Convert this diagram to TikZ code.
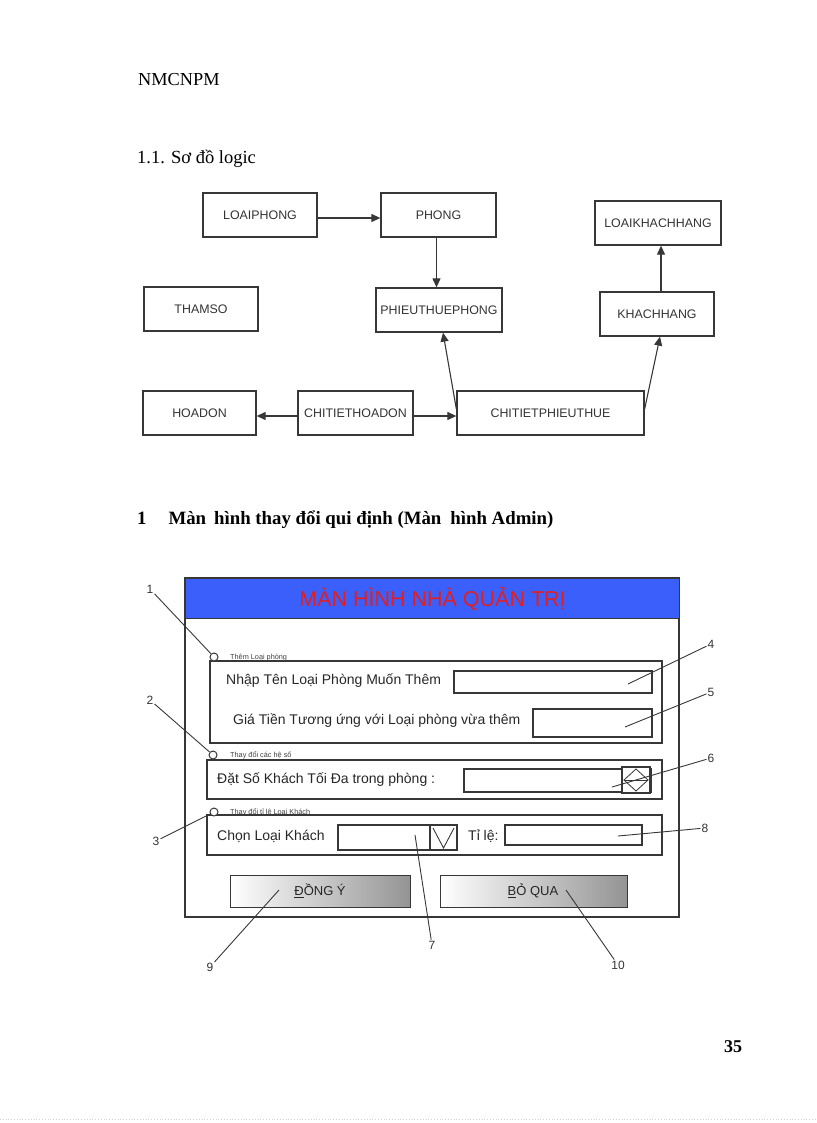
\documentclass[tikz,border=0pt]{standalone}
\usepackage{fontspec}
\setmainfont{Liberation Serif}
\newfontfamily\arial{Liberation Sans}
\usetikzlibrary{arrows.meta,calc}
\definecolor{titleblue}{RGB}{58,95,250}
\definecolor{titlered}{RGB}{228,30,30}
\definecolor{linegray}{RGB}{55,55,55}
\begin{document}
\begin{tikzpicture}[x=1pt,y=-1pt,
  ent/.style={draw=linegray, line width=1.3pt, minimum height=44pt, inner sep=0pt,
    font=\arial\fontsize{12.4}{14}\selectfont, text=black!80},
  rel/.style={draw=linegray, line width=1.1pt, -{Triangle[length=9pt,width=8pt]}},
  frm/.style={draw=linegray, line width=1.1pt},
  lbl/.style={anchor=west, inner sep=0pt, font=\arial\fontsize{14}{16}\selectfont, text=black!85},
  small/.style={anchor=base west, inner sep=0pt, font=\arial\fontsize{7.3}{8}\selectfont, text=black!75},
  radio/.style={circle, draw=linegray, line width=1pt, fill=white, minimum size=8pt, inner sep=0pt},
  num/.style={inner sep=1pt, font=\arial\fontsize{12}{14}\selectfont, text=black!80},
  call/.style={draw=linegray, line width=0.9pt},
  btn/.style={draw=linegray, line width=1pt, left color=white, right color=black!42},
  btntext/.style={font=\arial\fontsize{13}{15}\selectfont, text=black!85, inner sep=0pt}
]
\useasboundingbox (0,0) rectangle (816,1123);

% page texts
\node[anchor=base west, inner sep=0pt, font=\fontsize{18.3}{20}\selectfont] (hdr) at (138,86) {NMCNPM};
\node[anchor=base west, inner sep=0pt, font=\fontsize{18.5}{20}\selectfont] (sec) at (137,164) {1.1. Sơ đồ logic};
\node[anchor=base west, inner sep=0pt, font=\bfseries\fontsize{18.8}{21}\selectfont] (sec2) at (137,524) {1\hspace{22pt}Màn\hspace{8pt}hình thay đổi qui định (Màn\hspace{9pt}hình Admin)};
\node[anchor=base west, inner sep=0pt, font=\bfseries\fontsize{18}{20}\selectfont] (pg) at (724,1052) {35};
\draw[gray!35, dotted, line width=0.8pt] (0,1119) -- (816,1119);

% logical diagram
\node[ent, minimum width=114pt] (lp)   at (260,215)   {LOAIPHONG};
\node[ent, minimum width=115pt] (ph)   at (438.5,215) {PHONG};
\node[ent, minimum width=114pt] (ts)   at (201,309)   {THAMSO};
\node[ent, minimum width=126pt] (ptp)  at (439,310)   {PHIEUTHUEPHONG};
\node[ent, minimum width=126pt] (lkh)  at (658,223)   {LOAIKHACHHANG};
\node[ent, minimum width=114pt] (kh)   at (657,314)   {KHACHHANG};
\node[ent, minimum width=113pt] (hd)   at (199.5,413) {HOADON};
\node[ent, minimum width=115pt] (ctho) at (355.5,413) {CHITIETHOADON};
\node[ent, minimum width=187pt] (ctpt) at (550.5,413) {CHITIETPHIEUTHUE};

\draw[rel] ([yshift=-3pt]lp.east) -- ([yshift=-3pt]ph.west);
\draw[rel] ([xshift=-2pt]ph.south) -- ([xshift=-2pt]ph.south |- ptp.north);
\draw[rel] ([yshift=4pt]ctpt.west) -- ([xshift=4pt]ptp.south);
\draw[rel] ([yshift=4pt]ctpt.east) -- ([xshift=3pt]kh.south);
\draw[rel] ([xshift=4pt]kh.north) -- ([xshift=4pt]kh.north |- lkh.south);
\draw[rel] ([yshift=-3pt]ctho.west) -- ([yshift=-3pt]hd.east);
\draw[rel] ([yshift=-3pt]ctho.east) -- ([yshift=-3pt]ctpt.west);

% admin screen
\draw[frm] (185,578) rectangle (679,917);
\node[draw=linegray, line width=1.1pt, fill=titleblue, anchor=north west, minimum width=494pt, minimum height=40pt, inner sep=0pt,
  font=\arial\fontsize{21.5}{24}\selectfont, text=titlered] (title) at (185,578) {MÀN HÌNH NHÀ QUẢN TRỊ};

% group 1
\draw[frm] (210,661) rectangle (662,743);
\node[radio] (r1) at (214,657) {};
\node[small] (t1) at (230,659) {Thêm Loại phòng};
\node[lbl] (l1) at (226,681) {Nhập Tên Loại Phòng Muốn Thêm};
\draw[frm] (454,671) rectangle (652,693);
\node[lbl] (l2) at (233,721) {Giá Tiền Tương ứng với Loại phòng vừa thêm};
\draw[frm] (533,709) rectangle (652,737);

% group 2
\draw[frm] (207,760) rectangle (662,799);
\node[radio] (r2) at (213,755) {};
\node[small] (t2) at (230,757) {Thay đổi các hệ số};
\node[lbl] (l3) at (217,780) {Đặt Số Khách Tối Đa trong phòng :};
\draw[frm] (464,769) rectangle (651,792);
\draw[frm, fill=white] (622,767) rectangle (650,793);
\draw[linegray, line width=2pt] (650,768) -- (650,793);
\draw[linegray, line width=0.8pt] (636,769) -- (648,780) -- (636,791) -- (624,780) -- cycle;
\draw[linegray, line width=0.8pt] (624,780) -- (648,780);

% group 3
\draw[frm] (207,815) rectangle (662,855);
\node[radio] (r3) at (214,812) {};
\node[small] (t3) at (230,814) {Thay đổi tỉ lệ Loại Khách};
\node[lbl] (l4) at (217,836) {Chọn Loại Khách};
\draw[frm] (338,825) rectangle (430,850);
\draw[frm] (430,825) rectangle (457,850);
\draw[linegray, line width=0.9pt] (433,828) -- (443.5,848) -- (454,828);
\node[lbl] (l5) at (468,836) {Tỉ lệ:};
\draw[frm] (505,825) rectangle (642,845);

% buttons
\path[btn] (230,875) rectangle (410,907);
\path[btn] (440,875) rectangle (627,907);
\node[btntext] (ok) at (320,891) {\underline{Đ}ỒNG Ý};
\node[btntext] (cancel) at (533,891) {\underline{B}Ỏ QUA};

% callouts
\node[num] (n1) at (150,589) {1};
\node[num] (n2) at (150,700) {2};
\node[num] (n3) at (156,841) {3};
\node[num] (n4) at (711,644) {4};
\node[num] (n5) at (711,692) {5};
\node[num] (n6) at (711,758) {6};
\node[num] (n7) at (432,945) {7};
\node[num] (n8) at (705,828) {8};
\node[num] (n9) at (210,967) {9};
\node[num] (n10) at (618,965) {10};
\coordinate (c4) at (628,684);
\coordinate (c5) at (625,727);
\coordinate (c6) at (612,787);
\coordinate (c7) at (415,835);
\coordinate (c8) at (618,836);
\coordinate (c9) at (279,890);
\coordinate (c10) at (566,890);
\draw[call] (n1) -- (r1);
\draw[call] (n2) -- (r2);
\draw[call] (n3) -- (r3);
\draw[call] (n4) -- (c4);
\draw[call] (n5) -- (c5);
\draw[call] (n6) -- (c6);
\draw[call] (n7) -- (c7);
\draw[call] (n8) -- (c8);
\draw[call] (n9) -- (c9);
\draw[call] (n10) -- (c10);
\end{tikzpicture}
\end{document}
